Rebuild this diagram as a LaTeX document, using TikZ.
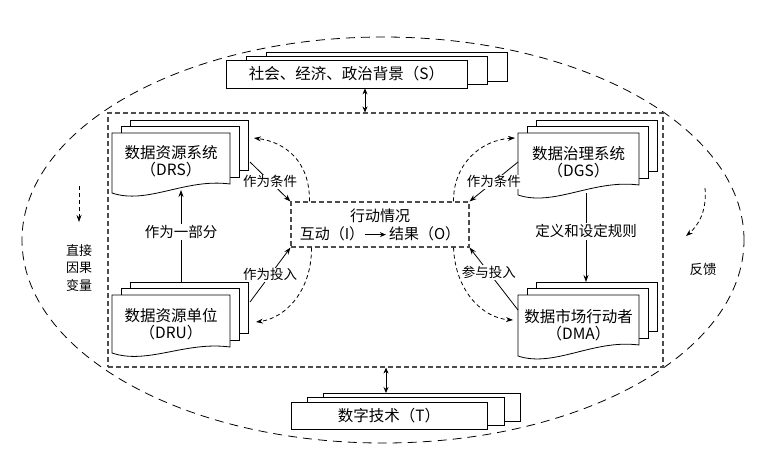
\documentclass[tikz,border=0pt]{standalone}
\usepackage{fontspec}
\setmainfont{Noto Sans CJK SC}
\usetikzlibrary{arrows.meta,shapes.geometric,calc}

\tikzset{
  ln/.style={line width=0.8pt, draw=black},
  boxln/.style={line width=0.8pt, draw=black, fill=white},
  tip/.style={-{Stealth[length=7pt,width=5pt]}},
  dtip/.style={{Stealth[length=6pt,width=5pt]}-{Stealth[length=6pt,width=5pt]}},
  dashcurve/.style={line width=0.8pt, dash pattern=on 4pt off 3pt},
  lab/.style={font=\fontsize{13.5}{16}\selectfont, fill=white, inner sep=1pt},
  vlab/.style={font=\fontsize{14.5}{17}\selectfont, fill=white, inner sep=1.5pt},
  big/.style={font=\fontsize{15.5}{17}\selectfont, align=center, inner sep=0pt},
  sysbox/.style={draw=black!70, line width=1.1pt, dash pattern=on 5pt off 3pt, inner sep=0pt},
}

\newcommand\docstack[5]{%
  \draw[boxln] ({#1+18},{#2-13}) rectangle ({#3+18},{#5-14});
  \draw[boxln] ({#1+9},{#2-6.5}) rectangle ({#3+9},{#5-7});
  \draw[boxln] (#1,#2) -- (#3,#2) -- (#3,#5) .. controls ({#1+0.62*(#3-#1)},{#5-6}) and ({#1+0.3*(#3-#1)},{#4+12}) .. (#1,#4) -- cycle;
}

\begin{document}
\begin{tikzpicture}[x=1pt,y=-1pt]
\useasboundingbox (0,0) rectangle (768,456);
\fill[white] (0,0) rectangle (768,456);

% outer environment ellipse
\node[ellipse, draw, line width=0.8pt, dash pattern=on 9pt off 6pt,
      minimum width=722pt, minimum height=406pt, inner sep=0pt] (env) at (383,240) {};

% inner system box
\node[sysbox, minimum width=555pt, minimum height=254pt] (sys) at (385.5,240) {};

% S box
\draw[boxln] (266,52) rectangle (507,81);
\draw[boxln] (246,56) rectangle (487,84);
\node[boxln, big, minimum width=241pt, minimum height=28pt] (s) at (346.5,74) {社会、经济、政治背景（S）};

% T box
\draw[boxln] (323,393) rectangle (520,421);
\draw[boxln] (307,397) rectangle (504,425);
\node[boxln, big, minimum width=196pt, minimum height=27pt] (t) at (389,415.5) {数字技术（T）};

% double arrows
\coordinate (sx) at (365,0);
\draw[ln, dtip] (s.south -| sx) -- (sys.north -| sx);
\coordinate (tback) at (386,393);
\draw[ln, dtip] (sys.south -| tback) -- (tback);

% document stacks
\docstack{112}{133}{230}{193}{184}
\node[big] (drs) at (171,161) {数据资源系统\\（DRS）};
\docstack{518}{133}{639}{195}{185}
\node[big] (dgs) at (578.5,162.5) {数据治理系统\\（DGS）};
\docstack{112}{295}{230}{353}{347}
\node[big] (dru) at (171,324) {数据资源单位\\（DRU）};
\docstack{518}{295}{639}{356}{345}
\node[big] (dma) at (578.5,325) {数据市场行动者\\（DMA）};

% action situation box
\node[sysbox, fill=white, minimum width=178pt, minimum height=45pt, align=center,
      font=\fontsize{15}{18}\selectfont] (act) at (380,224.5)
  {行动情况\\互动（I）\tikz[baseline=-0.55ex]\draw[-{Stealth[length=6pt,width=5pt]}, line width=1.3pt] (0pt,0pt) -- (21pt,0pt);\,结果（O）};

% vertical solid arrows
\coordinate (drsB) at (181,190);
\coordinate (druT) at (181,283);
\draw[ln, tip] (druT) -- node[vlab, pos=0.55] {作为一部分} (drsB);
\coordinate (dgsB) at (586,193);
\coordinate (dmaT) at (586,282);
\draw[ln, tip] (dgsB) -- node[vlab, pos=0.43] {定义和设定规则} (dmaT);

% solid diagonal arrows to action box
\coordinate (drsR) at (250,162);
\draw[ln, tip] (drsR) -- node[lab] {作为条件} (act.north west);
\coordinate (dgsL) at (518,162);
\draw[ln, tip] (dgsL) -- node[lab] {作为条件} (act.north east);
\coordinate (druR) at (250,302);
\draw[ln, tip] (druR) -- node[lab] {作为投入} (act.south west);
\coordinate (dmaL) at (518,310);
\draw[ln, tip] (dmaL) -- node[lab, pos=0.6] {参与投入} (act.south east);

% dashed feedback curves
\coordinate (drsIn) at (254,138);
\draw[dashcurve, tip] ($(act.north west)+(19,0)$) .. controls (310,160) and (284,142) .. (drsIn);
\coordinate (druIn) at (256,322);
\draw[dashcurve, tip] ($(act.south west)+(21,0)$) .. controls (312,290) and (286,318) .. (druIn);
\coordinate (dgsIn) at (515,138);
\draw[dashcurve, tip] ($(act.north east)+(-16,0)$) .. controls (453,165) and (480,140) .. (dgsIn);
\coordinate (dmaIn) at (513,320);
\draw[dashcurve, tip] ($(act.south east)+(-16,0)$) .. controls (455,290) and (482,318) .. (dmaIn);

% left: direct causal variables
\coordinate (cA) at (79,186);
\coordinate (cB) at (79,222);
\draw[dashcurve, tip] (cA) -- (cB);
\node[font=\fontsize{13}{17.5}\selectfont, align=center, inner sep=0pt] (cause) at (79,268) {直接\\因果\\变量};

% right: feedback
\coordinate (fA) at (705,188);
\coordinate (fB) at (686,236);
\draw[dashcurve, tip] (fA) .. controls (707,210) and (699,225) .. (fB);
\node[font=\fontsize{13.5}{16}\selectfont, inner sep=0pt] (fb) at (703,269) {反馈};

\end{tikzpicture}
\end{document}
